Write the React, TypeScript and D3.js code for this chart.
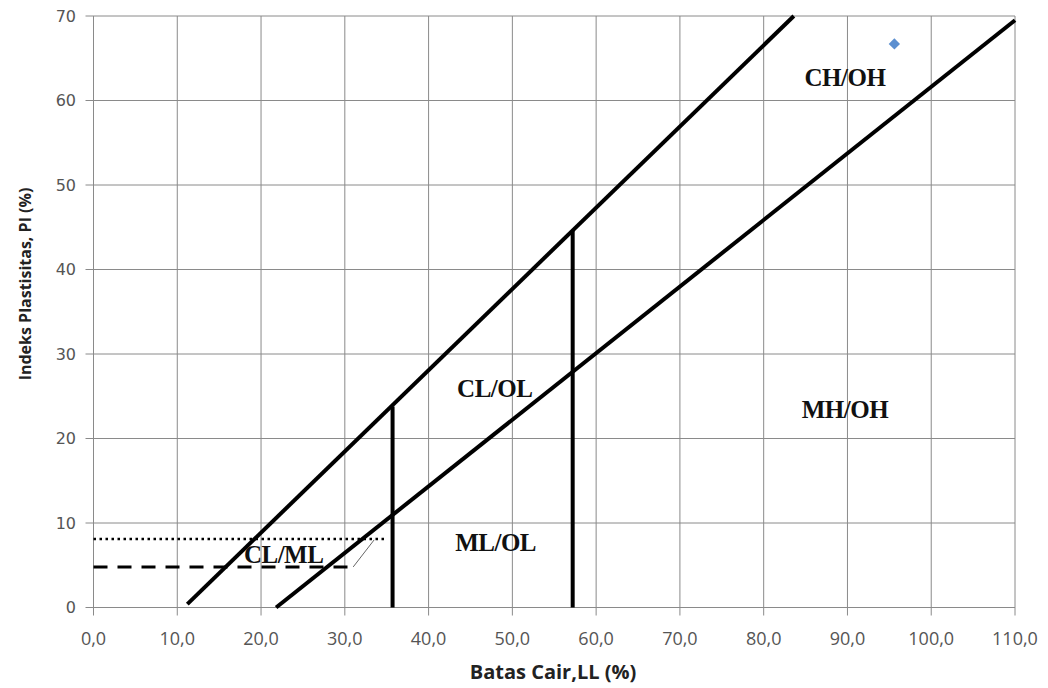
import React, { useEffect, useRef } from "react";
import * as d3 from "d3";

// tick values
const xTicks = [0, 10, 20, 30, 40, 50, 60, 70, 80, 90, 100, 110];
const yTicks = [0, 10, 20, 30, 40, 50, 60, 70];

// chart lines (LL, PI)
const upperLine = [
  { ll: 11.2, pi: 0.4 },
  { ll: 83.6, pi: 70 },
];
const lowerLine = [
  { ll: 21.8, pi: 0 },
  { ll: 110, pi: 69.5 },
];
const verticalLines = [
  { ll: 35.7, top: 23.8 },
  { ll: 57.2, top: 44.6 },
];
const dottedLine = [
  { ll: 0, pi: 8.1 },
  { ll: 35, pi: 8.1 },
];
const dashedLine = [
  { ll: 0, pi: 4.8 },
  { ll: 31, pi: 4.8 },
];
const leaderLine = [
  { ll: 31, pi: 4.8 },
  { ll: 33.5, pi: 8.0 },
];

// sample point
const samples = [{ ll: 95.6, pi: 66.7 }];

// zone labels
const zoneLabels = [
  { text: "CH/OH", ll: 89.7, pi: 62.7 },
  { text: "CL/OL", ll: 47.9, pi: 26.0 },
  { text: "MH/OH", ll: 89.7, pi: 23.5 },
  { text: "ML/OL", ll: 48.0, pi: 7.75 },
  { text: "CL/ML", ll: 22.7, pi: 6.3 },
];

const App = () => {
  const ref = useRef<SVGSVGElement>(null);

  useEffect(() => {
    drawChart();
  }, []);

  const drawChart = () => {
    const width = 1048;
    const height = 688;
    const svg = d3.select(ref.current);
    svg.selectAll("*").remove();
    svg.attr("width", width).attr("height", height);

    svg.append("rect").attr("width", width).attr("height", height).attr("fill", "#fff");

    const x = d3.scaleLinear().domain([0, 110]).range([93.5, 1015]);
    const y = d3.scaleLinear().domain([0, 70]).range([607.5, 16]);

    const grid = "#8a8a8a";

    // gridlines (with outside tick marks)
    svg
      .append("g")
      .selectAll("line")
      .data(xTicks)
      .enter()
      .append("line")
      .attr("x1", (d) => x(d))
      .attr("x2", (d) => x(d))
      .attr("y1", y(70))
      .attr("y2", y(0) + 8)
      .attr("stroke", grid)
      .attr("stroke-width", 1);

    svg
      .append("g")
      .selectAll("line")
      .data(yTicks)
      .enter()
      .append("line")
      .attr("x1", x(0) - 8)
      .attr("x2", x(110))
      .attr("y1", (d) => y(d))
      .attr("y2", (d) => y(d))
      .attr("stroke", grid)
      .attr("stroke-width", 1);

    // tick labels
    svg
      .append("g")
      .selectAll("text")
      .data(xTicks)
      .enter()
      .append("text")
      .attr("x", (d) => x(d))
      .attr("y", 645)
      .attr("text-anchor", "middle")
      .attr("font-family", "'Open Sans', sans-serif")
      .attr("font-size", 18)
      .attr("fill", "#555")
      .text((d) => d3.format(".1f")(d).replace(".", ","));

    svg
      .append("g")
      .selectAll("text")
      .data(yTicks)
      .enter()
      .append("text")
      .attr("x", 76)
      .attr("y", (d) => y(d))
      .attr("dy", "0.36em")
      .attr("text-anchor", "end")
      .attr("font-family", "'DejaVu Sans', sans-serif")
      .attr("font-size", 16)
      .attr("fill", "#555")
      .text((d) => d);

    // axis titles
    svg
      .append("text")
      .attr("x", 553)
      .attr("y", 679)
      .attr("text-anchor", "middle")
      .attr("font-family", "'Open Sans', sans-serif")
      .attr("font-weight", "bold")
      .attr("font-size", 20)
      .attr("fill", "#222")
      .text("Batas Cair,LL (%)");

    svg
      .append("text")
      .attr("transform", "translate(31,284) rotate(-90)")
      .attr("text-anchor", "middle")
      .attr("font-family", "'Open Sans', sans-serif")
      .attr("font-weight", "bold")
      .attr("font-size", 16)
      .attr("fill", "#222")
      .text("Indeks Plastisitas, PI (%)");

    const line = d3
      .line<{ ll: number; pi: number }>()
      .x((d) => x(d.ll))
      .y((d) => y(d.pi));

    // boundary lines
    [upperLine, lowerLine].forEach((data) => {
      svg
        .append("path")
        .attr("d", line(data))
        .attr("fill", "none")
        .attr("stroke", "#000")
        .attr("stroke-width", 4);
    });

    svg
      .append("g")
      .selectAll("line")
      .data(verticalLines)
      .enter()
      .append("line")
      .attr("x1", (d) => x(d.ll))
      .attr("x2", (d) => x(d.ll))
      .attr("y1", y(0))
      .attr("y2", (d) => y(d.top))
      .attr("stroke", "#000")
      .attr("stroke-width", 4);

    svg
      .append("path")
      .attr("d", line(dottedLine))
      .attr("fill", "none")
      .attr("stroke", "#000")
      .attr("stroke-width", 2.5)
      .attr("stroke-dasharray", "2.5,3.5");

    svg
      .append("path")
      .attr("d", line(dashedLine))
      .attr("fill", "none")
      .attr("stroke", "#000")
      .attr("stroke-width", 3)
      .attr("stroke-dasharray", "14,10");

    svg
      .append("path")
      .attr("d", line(leaderLine))
      .attr("fill", "none")
      .attr("stroke", "#666")
      .attr("stroke-width", 1);

    // zone labels
    svg
      .append("g")
      .selectAll("text")
      .data(zoneLabels)
      .enter()
      .append("text")
      .attr("x", (d) => x(d.ll))
      .attr("y", (d) => y(d.pi))
      .attr("dy", "0.35em")
      .attr("text-anchor", "middle")
      .attr("font-family", "'Liberation Serif', serif")
      .attr("font-weight", "bold")
      .attr("font-size", 25)
      .attr("letter-spacing", -0.5)
      .attr("fill", "#111")
      .text((d) => d.text);

    // data point (diamond marker)
    svg
      .append("g")
      .selectAll("rect")
      .data(samples)
      .enter()
      .append("rect")
      .attr("x", -4)
      .attr("y", -4)
      .attr("width", 8)
      .attr("height", 8)
      .attr("transform", (d) => `translate(${x(d.ll)},${y(d.pi)}) rotate(45)`)
      .attr("fill", "#5b8fd0");
  };

  return (
    <svg
      ref={ref}
      style={{ position: "absolute", left: 0, top: 0, display: "block" }}
    />
  );
};

export default App;
